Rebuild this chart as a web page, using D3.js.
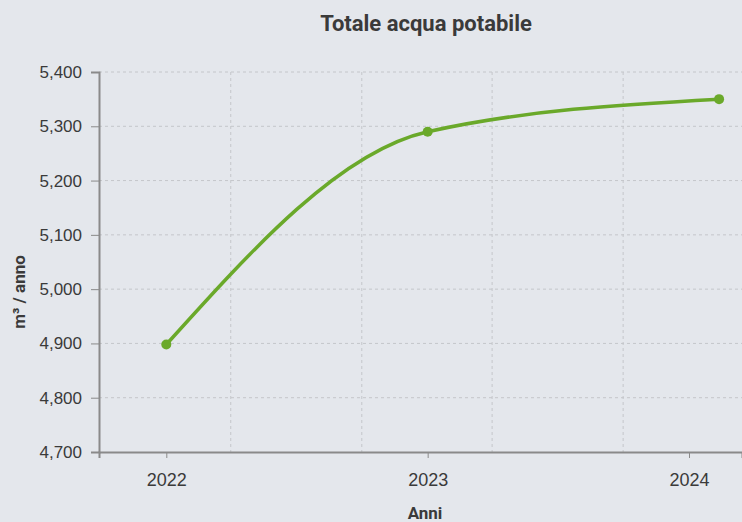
<!DOCTYPE html>
<html>
<head>
<meta charset="utf-8">
<script src="https://cdn.jsdelivr.net/npm/d3@7"></script>
<style>
  body { margin: 0; background: #e4e7ec; }
  svg { display: block; font-family: Roboto, "Noto Sans", sans-serif; }
</style>
</head>
<body>
<div id="chart"></div>
<script>
// data
var years = ['2022', '2023', '2024'];
var dates = ['2022-01-01', '2023-01-01', '2024-02-12'];
var values = [4898, 5290, 5350];
var yTicks = [4700, 4800, 4900, 5000, 5100, 5200, 5300, 5400];
var gridDates = ['2022-04-01', '2022-10-01', '2023-04-01', '2023-10-01'];

var width = 742, height = 522;
var plotLeft = 99, plotRight = 742, plotTop = 72, plotBottom = 452;
var green = '#6aa92a';

var parse = d3.timeParse('%Y-%m-%d');
var data = dates.map((d, i) => ({date: parse(d), value: values[i]}));

var x = d3.scaleTime()
    .domain([parse('2021-09-29'), parse('2024-03-15')])
    .range([plotLeft, plotRight]);
var y = d3.scaleLinear().domain([4700, 5400]).range([plotBottom, plotTop]);

var svg = d3.select('#chart').append('svg')
    .attr('width', width)
    .attr('height', height);

svg.append('rect').attr('width', width).attr('height', height).attr('fill', '#e4e7ec');

// grid
svg.append('g').selectAll('line')
    .data(yTicks.slice(1))
    .enter().append('line')
    .attr('x1', plotLeft).attr('x2', plotRight)
    .attr('y1', d => y(d)).attr('y2', d => y(d))
    .attr('stroke', '#c4c6ca').attr('stroke-dasharray', '3,3');

svg.append('g').selectAll('line')
    .data(gridDates)
    .enter().append('line')
    .attr('x1', d => x(parse(d))).attr('x2', d => x(parse(d)))
    .attr('y1', plotTop).attr('y2', plotBottom)
    .attr('stroke', '#c4c6ca').attr('stroke-dasharray', '3,3');

// y axis
var yAxis = svg.append('g')
    .attr('transform', 'translate(' + plotLeft + ',0)')
    .call(d3.axisLeft(y).tickValues(yTicks).tickSize(8).tickPadding(9).tickFormat(d3.format(',')));
yAxis.select('.domain').attr('stroke', '#8a8a8a').attr('stroke-width', 2);
yAxis.selectAll('.tick line').attr('stroke', '#8a8a8a');
yAxis.selectAll('text').attr('fill', '#3a3a3a').style('font-size', '17px');

// x axis
var xAxis = svg.append('g')
    .attr('transform', 'translate(0,' + plotBottom + ')')
    .call(d3.axisBottom(x).tickValues(years.map(d => parse(d + '-01-01'))).tickSize(6).tickPadding(15).tickFormat(d3.timeFormat('%Y')));
xAxis.select('.domain').attr('stroke', '#8a8a8a').attr('stroke-width', 2);
xAxis.selectAll('.tick line').attr('stroke', '#8a8a8a');
xAxis.selectAll('text').attr('fill', '#3a3a3a').style('font-size', '18px');

// line
var line = d3.line()
    .x(d => x(d.date))
    .y(d => y(d.value))
    .curve(d3.curveMonotoneX);

svg.append('path')
    .datum(data)
    .attr('d', line)
    .attr('fill', 'none')
    .attr('stroke', green)
    .attr('stroke-width', 3.5);

svg.selectAll('.dot')
    .data(data)
    .enter().append('circle')
    .attr('cx', d => x(d.date))
    .attr('cy', d => y(d.value))
    .attr('r', 5)
    .attr('fill', green);

// titles
svg.append('text')
    .attr('x', 426).attr('y', 31)
    .attr('text-anchor', 'middle')
    .attr('fill', '#3a3a3a')
    .style('font-size', '22px').style('font-weight', 'bold')
    .text('Totale acqua potabile');

svg.append('text')
    .attr('x', 425).attr('y', 519)
    .attr('text-anchor', 'middle')
    .attr('fill', '#3a3a3a')
    .style('font-size', '17px').style('font-weight', 'bold')
    .text('Anni');

svg.append('text')
    .attr('transform', 'translate(25,292) rotate(-90)')
    .attr('text-anchor', 'middle')
    .attr('fill', '#3a3a3a')
    .style('font-size', '17px').style('font-weight', 'bold')
    .text('m³ / anno');
</script>
</body>
</html>
